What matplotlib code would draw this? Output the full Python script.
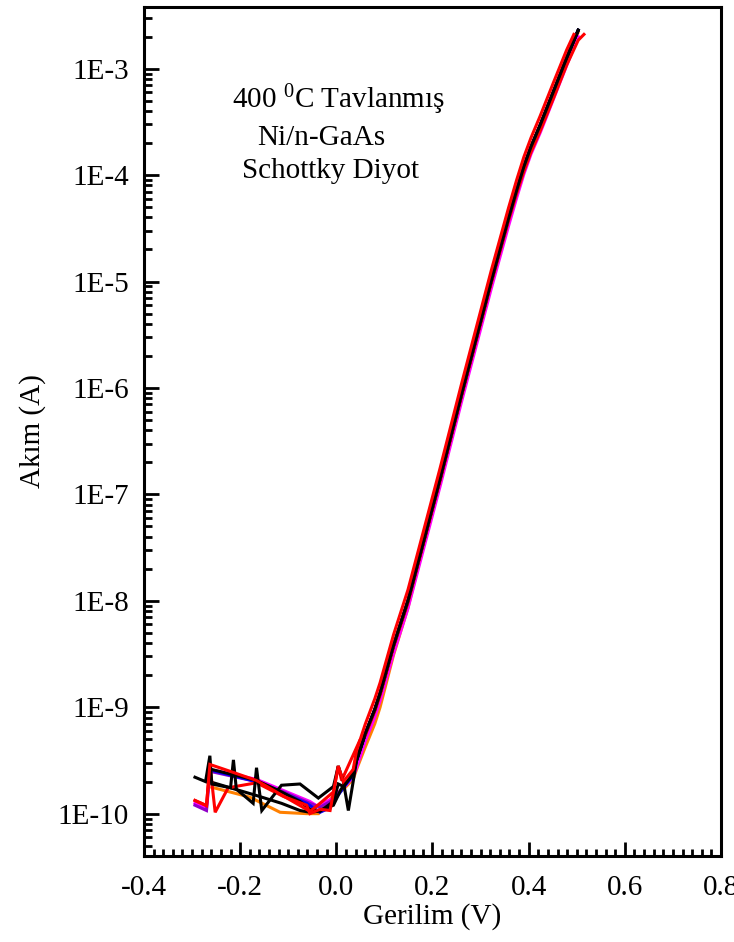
import matplotlib
matplotlib.use("Agg")
import matplotlib.pyplot as plt
from matplotlib.ticker import MultipleLocator, LogLocator, FuncFormatter, NullFormatter
import numpy as np

plt.rcParams['font.family'] = ['Liberation Serif', 'DejaVu Serif']
plt.rcParams['mathtext.fontset'] = 'custom'
plt.rcParams['mathtext.rm'] = 'Liberation Serif'
plt.rcParams['mathtext.it'] = 'Liberation Serif:italic'

# ---------------- data ----------------
fwd_V = [0.042, 0.06, 0.08, 0.091, 0.119, 0.149, 0.18, 0.216, 0.261, 0.322, 0.358, 0.375, 0.39, 0.405, 0.424, 0.451, 0.479, 0.503]
fwd_black = [3.16e-10, 5.6e-10, 9.5e-10, 1.35e-9, 3.8e-9, 1.0e-8, 3.4e-8, 1.41e-7, 8.9e-7, 1.0e-5, 3.9e-5, 7.2e-5, 1.2e-4, 1.85e-4, 2.95e-4, 6.0e-4, 1.26e-3, 2.3e-3]
fwd_magenta = [2.7e-10, 4.8e-10, 8.1e-10, 1.15e-9, 3.2e-9, 8.5e-9, 2.9e-8, 1.2e-7, 7.6e-7, 8.5e-6, 3.3e-5, 6.1e-5, 1.02e-4, 1.58e-4, 2.5e-4, 5.1e-4, 1.07e-3, 2.0e-3]
fwd_orange = [2.6e-10, 4.2e-10, 7.0e-10, 1.0e-9, 3.1e-9, 8.6e-9, 3.1e-8, 1.33e-7, 8.5e-7, 9.7e-6, 3.8e-5, 7.0e-5, 1.17e-4, 1.8e-4, 2.9e-4, 5.9e-4, 1.24e-3, 2.2e-3]

redL_fwd_V = [0.042, 0.06, 0.08, 0.091, 0.119, 0.149, 0.18, 0.216, 0.261, 0.322, 0.358, 0.375, 0.39, 0.405, 0.424, 0.451, 0.479, 0.494]
redL_fwd_I = [3.9e-10, 6.9e-10, 1.2e-9, 1.7e-9, 4.8e-9, 1.27e-8, 4.3e-8, 1.78e-7, 1.12e-6, 1.26e-5, 4.9e-5, 9.0e-5, 1.48e-4, 2.25e-4, 3.6e-4, 7.3e-4, 1.5e-3, 2.1e-3]
redR_fwd_V = [0.049, 0.06, 0.08, 0.091, 0.119, 0.149, 0.18, 0.216, 0.261, 0.322, 0.358, 0.375, 0.39, 0.405, 0.424, 0.451, 0.479, 0.503, 0.515]
redR_fwd_I = [4.9e-10, 5.4e-10, 9.2e-10, 1.3e-9, 3.7e-9, 9.6e-9, 3.3e-8, 1.36e-7, 8.6e-7, 9.6e-6, 3.7e-5, 6.7e-5, 1.08e-4, 1.65e-4, 2.6e-4, 5.2e-4, 1.08e-3, 1.85e-3, 2.1e-3]

# reverse / low-bias parts
redA_V = [-0.294, -0.27, -0.263, -0.221, -0.166, -0.114, -0.0547, -0.034, -0.006, 0.004, 0.0146, 0.035]
redA_I = [1.33e-10, 1.19e-10, 2.9e-10, 2.5e-10, 2.05e-10, 1.5e-10, 1.05e-10, 1.25e-10, 1.6e-10, 2.8e-10, 2.0e-10, 2.6e-10]
redB_V = [-0.294, -0.27, -0.263, -0.252, -0.225, -0.166, -0.11, -0.0616, -0.055, -0.034, -0.013, 0.004, 0.011]
redB_I = [1.33e-10, 1.19e-10, 2.9e-10, 1.03e-10, 1.75e-10, 1.95e-10, 1.45e-10, 1.2e-10, 1.0e-10, 1.1e-10, 1.07e-10, 2.8e-10, 2.05e-10]
blackC_V = [-0.294, -0.272, -0.263, -0.259, -0.22, -0.214, -0.208, -0.173, -0.166, -0.155, -0.114, -0.0755, -0.0374, -0.006, 0.004, 0.0146, 0.025, 0.035]
blackC_I = [2.2e-10, 2.0e-10, 3.5e-10, 1.9e-10, 1.75e-10, 3.2e-10, 1.7e-10, 1.25e-10, 2.7e-10, 1.07e-10, 1.85e-10, 1.9e-10, 1.4e-10, 1.8e-10, 2.8e-10, 2.0e-10, 1.07e-10, 2.0e-10]
blackD_V = [-0.259, -0.166, -0.114, -0.0755, -0.0547, -0.034, -0.006, 0.004, 0.015, 0.035]
blackD_I = [2.6e-10, 2.05e-10, 1.6e-10, 1.3e-10, 1.1e-10, 1.05e-10, 1.3e-10, 1.9e-10, 1.8e-10, 2.4e-10]
blackE_V = [-0.259, -0.166, -0.114, -0.0755, -0.0547, -0.04, -0.006, 0.01, 0.03]
blackE_I = [1.97e-10, 1.48e-10, 1.25e-10, 1.07e-10, 1.03e-10, 1.05e-10, 1.2e-10, 1.7e-10, 2.2e-10]
blue_V = [-0.259, -0.166, -0.11, -0.0616, -0.034, -0.02, -0.006, 0.015, 0.035]
blue_I = [2.55e-10, 2.0e-10, 1.55e-10, 1.25e-10, 1.03e-10, 1.1e-10, 1.3e-10, 1.75e-10, 2.3e-10]
purple_V = [-0.294, -0.27, -0.263, -0.166, -0.11, -0.0547, -0.034, -0.006, 0.015, 0.035]
purple_I = [1.2e-10, 1.07e-10, 2.5e-10, 2.0e-10, 1.6e-10, 1.25e-10, 1.15e-10, 1.35e-10, 1.8e-10, 2.3e-10]
magenta_V = [-0.294, -0.27, -0.263, -0.166, -0.11, -0.0547, -0.04, -0.006, 0.015, 0.035]
magenta_I = [1.25e-10, 1.12e-10, 2.6e-10, 2.1e-10, 1.65e-10, 1.3e-10, 1.18e-10, 1.4e-10, 1.75e-10, 2.2e-10]
orange_V = [-0.259, -0.18, -0.117, -0.0616, -0.037, -0.006, 0.015, 0.035]
orange_I = [1.77e-10, 1.43e-10, 1.03e-10, 1.0e-10, 1.0e-10, 1.48e-10, 1.7e-10, 2.1e-10]

# ---------------- figure ----------------
fig = plt.figure(figsize=(7.34, 9.42), dpi=100)
ax = fig.add_axes([144/734, 1-856/942, (721-144)/734, (856-6.5)/942])

lw = 2.2
curves = [
    (orange_V, orange_I, fwd_V, fwd_orange, '#ff8000'),
    (magenta_V, magenta_I, fwd_V, fwd_magenta, '#ff00ff'),
    (purple_V, purple_I, fwd_V, fwd_black, '#9000c8'),
    (blue_V, blue_I, fwd_V, fwd_black, '#0000ff'),
    (blackE_V, blackE_I, fwd_V, fwd_black, '#000000'),
    (blackD_V, blackD_I, fwd_V, fwd_black, '#000000'),
    (redB_V, redB_I, redR_fwd_V, redR_fwd_I, '#ff0000'),
    (blackC_V, blackC_I, fwd_V, fwd_black, '#000000'),
    (redA_V, redA_I, redL_fwd_V, redL_fwd_I, '#ff0000'),
]
for rv, ri, fv, fi, c in curves:
    ax.plot(list(rv) + list(fv), list(ri) + list(fi), color=c, lw=lw, solid_joinstyle='miter')

ax.set_yscale('log')
ax.set_xlim(-0.4, 0.8)
ax.set_ylim(4.0e-11, 3.84e-3)

ax.xaxis.set_major_locator(MultipleLocator(0.2))
ax.xaxis.set_minor_locator(MultipleLocator(0.02))
ax.xaxis.set_major_formatter(FuncFormatter(lambda v, p: f"{v:.1f}" if abs(v) > 1e-9 else "0.0"))
ax.yaxis.set_major_locator(LogLocator(base=10, numticks=20))
ax.yaxis.set_minor_locator(LogLocator(base=10, subs=np.arange(2, 10), numticks=20))
ax.yaxis.set_minor_formatter(NullFormatter())
ax.yaxis.set_major_formatter(FuncFormatter(lambda v, p: f"1E{int(round(np.log10(v)))}"))

ax.tick_params(axis='both', which='both', direction='in', top=False, right=False, colors='black', width=2.0)
ax.tick_params(axis='x', which='major', length=10, pad=14, labelsize=21)
ax.tick_params(axis='x', which='minor', length=5)
ax.tick_params(axis='y', which='major', length=11, pad=11, labelsize=21)
ax.tick_params(axis='y', which='minor', length=6)
for s in ax.spines.values():
    s.set_linewidth(2.2)

ax.set_xlabel('Gerilim (V)', fontsize=21, labelpad=1)
ax.set_ylabel('Akım (A)', fontsize=21, labelpad=8)

fig.text(232/734, 1-108/942, "400 $^{\\rm 0}$C Tavlanmış", fontsize=21, va='baseline', ha='left')
fig.text(257/734, 1-145/942, "Ni/n-GaAs", fontsize=21, va='baseline', ha='left')
fig.text(242/734, 1-178/942, "Schottky Diyot", fontsize=21, va='baseline', ha='left')

fig.savefig('out.png', dpi=100)
